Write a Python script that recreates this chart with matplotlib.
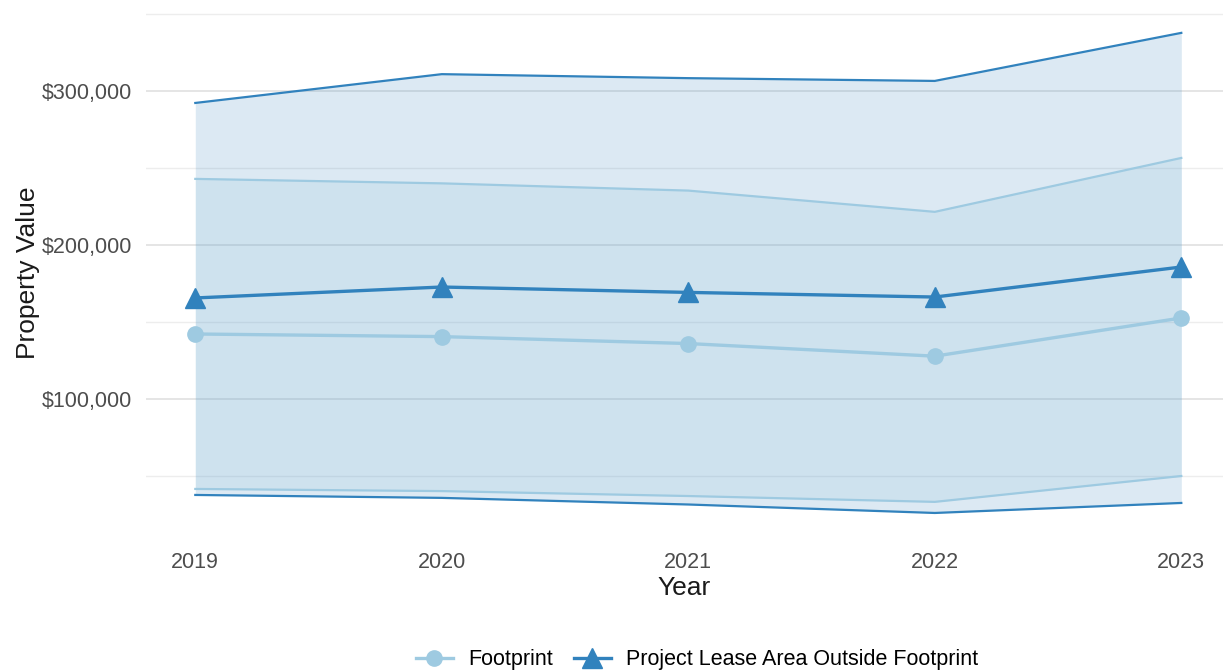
import numpy as np
import matplotlib.pyplot as plt
from matplotlib.ticker import FuncFormatter, MultipleLocator

plt.rcParams['font.family'] = ['Liberation Sans', 'DejaVu Sans']

years = [2019, 2020, 2021, 2022, 2023]

# Footprint: mean and band
fp_mean = [142200, 140500, 136000, 127800, 152600]
fp_low = [41600, 40200, 37000, 33200, 50000]
fp_high = [242900, 240000, 235300, 221500, 256500]

# Project lease area outside footprint: mean and band
out_mean = [165600, 172700, 169200, 166200, 185700]
out_low = [37700, 35800, 31500, 26000, 32500]
out_high = [292200, 310900, 308300, 306500, 337700]

light = '#9ecae1'
dark = '#3182bd'

fig = plt.figure(figsize=(12.23, 6.71), dpi=100)
ax = fig.add_axes([146 / 1223, 134 / 671, 1077 / 1223, 528 / 671])

ax.fill_between(years, fp_low, fp_high, color=light, alpha=0.17, lw=0, zorder=2)
ax.fill_between(years, out_low, out_high, color=dark, alpha=0.17, lw=0, zorder=2)

ax.plot(years, fp_low, color=light, lw=1.6, zorder=3)
ax.plot(years, fp_high, color=light, lw=1.6, zorder=3)
ax.plot(years, out_low, color=dark, lw=1.6, zorder=3)
ax.plot(years, out_high, color=dark, lw=1.6, zorder=3)

ax.plot(years, fp_mean, color=light, lw=2.4, marker='o', ms=11,
        label='Footprint', zorder=4)
ax.plot(years, out_mean, color=dark, lw=2.4, marker='^', ms=14,
        label='Project Lease Area Outside Footprint', zorder=5)

ax.set_xlim(2018.8, 2018.8 + 1077 / 246.5)
ax.set_ylim(10400, 353200)
ax.set_xticks(years)
ax.yaxis.set_major_locator(MultipleLocator(100000))
ax.yaxis.set_minor_locator(MultipleLocator(50000))
ax.yaxis.set_major_formatter(FuncFormatter(lambda v, p: f'${v:,.0f}'))

ax.grid(axis='y', which='major', color='#e3e3e3', lw=1.3, zorder=0)
ax.grid(axis='y', which='minor', color='#ededed', lw=1.0, zorder=0)
ax.grid(axis='x', visible=False)
ax.set_axisbelow(True)
for s in ax.spines.values():
    s.set_visible(False)
ax.tick_params(axis='both', which='both', length=0, labelsize=15.5,
               labelcolor='#4d4d4d')
ax.tick_params(axis='x', pad=11)
ax.tick_params(axis='y', pad=10)

ax.set_xlabel('Year', fontsize=19, color='#1a1a1a', labelpad=2)
ax.set_ylabel('Property Value', fontsize=19, color='#1a1a1a', labelpad=1)

fig.legend(loc='center', bbox_to_anchor=(697 / 1223, 1 - 660 / 671), ncol=2,
           frameon=False, fontsize=15.5, handlelength=1.7, columnspacing=1.0,
           handletextpad=0.7)

fig.savefig('out.png', dpi=100)
